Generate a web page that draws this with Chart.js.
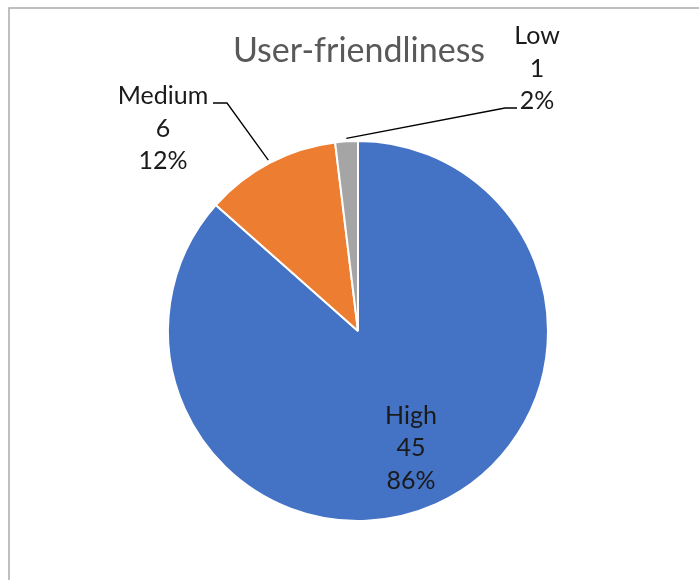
<!DOCTYPE html>
<html>
<head>
<meta charset="utf-8">
<script src="https://cdn.jsdelivr.net/npm/chart.js@4/dist/chart.umd.min.js"></script>
<style>
  html, body { margin: 0; padding: 0; background: #fff; }
  canvas { display: block; }
</style>
</head>
<body>
<canvas id="pieChart" width="699" height="580"></canvas>
<script>
// Survey answers for user-friendliness
const categories = ["High", "Medium", "Low"];
const counts = [45, 6, 1];
const percentLabels = ["86%", "12%", "2%"];
const sliceColors = ["#4472C4", "#ED7D31", "#A5A5A5"];

const FONT = "Lato, 'Open Sans', sans-serif";

// Frame, title and data labels with leader lines
const decorPlugin = {
    id: "decor",
    beforeDraw(chart) {
        const ctx = chart.ctx;
        ctx.save();
        ctx.fillStyle = "#fff";
        ctx.fillRect(0, 0, chart.width, chart.height);
        ctx.strokeStyle = "#ababab";
        ctx.lineWidth = 1.5;
        ctx.beginPath();
        ctx.moveTo(9, chart.height + 2);
        ctx.lineTo(9, 8);
        ctx.lineTo(chart.width + 2, 8);
        ctx.stroke();
        ctx.restore();
    },
    afterDraw(chart, args, opts) {
        const ctx = chart.ctx;
        const meta = chart.getDatasetMeta(0);
        ctx.save();

        // Title
        ctx.fillStyle = "#595959";
        ctx.font = "34px " + FONT;
        ctx.textAlign = "center";
        ctx.textBaseline = "alphabetic";
        ctx.fillText("User-friendliness", 359, 62);

        ctx.font = "25px " + FONT;
        ctx.fillStyle = "#1a1a1a";
        meta.data.forEach((arc, i) => {
            const mid = (arc.startAngle + arc.endAngle) / 2;
            const lines = [categories[i], String(counts[i]), percentLabels[i]];
            const place = opts.places[i];
            let cx, top;
            if (place.inside) {
                const r = arc.outerRadius * place.inside;
                cx = arc.x + Math.cos(mid) * r;
                const cy = arc.y + Math.sin(mid) * r;
                top = cy - 25;
            } else {
                cx = place.x;
                top = place.y;
                // leader line from the slice edge to the label
                const ex = arc.x + Math.cos(mid) * (arc.outerRadius + 3);
                const ey = arc.y + Math.sin(mid) * (arc.outerRadius + 3);
                ctx.strokeStyle = "#000";
                ctx.lineWidth = 1.3;
                ctx.beginPath();
                ctx.moveTo(ex, ey);
                ctx.lineTo(place.elbow[0], place.elbow[1]);
                ctx.lineTo(place.end[0], place.end[1]);
                ctx.stroke();
            }
            lines.forEach((t, k) => ctx.fillText(t, cx, top + k * 32.5));
        });
        ctx.restore();
    }
};

new Chart(document.getElementById("pieChart"), {
    type: "pie",
    data: {
        labels: categories,
        datasets: [{
            data: counts,
            backgroundColor: sliceColors,
            borderColor: "#fff",
            borderWidth: 2,
            hoverOffset: 0
        }]
    },
    options: {
        responsive: false,
        animation: false,
        layout: { padding: { left: 167, right: 150, top: 140, bottom: 58 } },
        plugins: {
            legend: { display: false },
            tooltip: { enabled: false },
            decor: {
                places: [
                    { inside: 0.68 },
                    { x: 163, y: 104, elbow: [227, 103], end: [213, 103] },
                    { x: 537, y: 44, elbow: [505, 108], end: [517, 108] }
                ]
            }
        }
    },
    plugins: [decorPlugin]
});
</script>
</body>
</html>
